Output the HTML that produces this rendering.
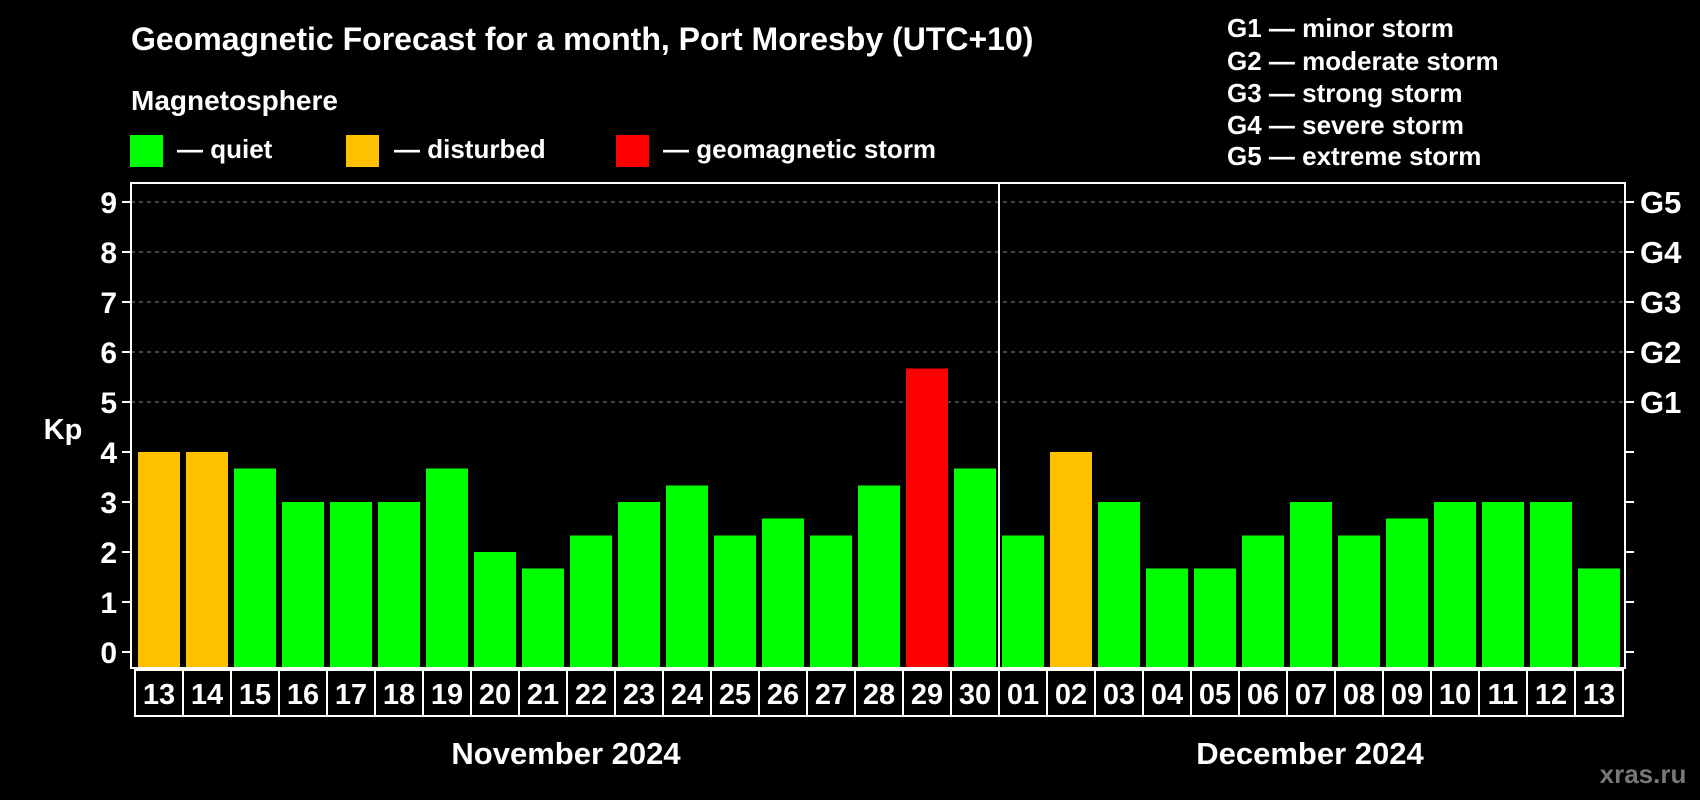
<!DOCTYPE html>
<html><head><meta charset="utf-8"><style>
html,body{margin:0;padding:0;background:#000;}
svg{display:block;font-family:"Liberation Sans",Arial,sans-serif;font-weight:bold;}
</style></head><body>
<svg id="chart" width="1700" height="800" viewBox="0 0 1700 800">
<text x="131" y="50" fill="#fff" font-size="32">Geomagnetic Forecast for a month, Port Moresby (UTC+10)</text>
<text x="131" y="110" fill="#fff" font-size="28">Magnetosphere</text>
<rect x="130" y="135" width="33" height="32" fill="#00ff00"/>
<text x="177" y="158" fill="#fff" font-size="26">— quiet</text>
<rect x="346" y="135" width="33" height="32" fill="#ffc000"/>
<text x="394" y="158" fill="#fff" font-size="26">— disturbed</text>
<rect x="616" y="135" width="33" height="32" fill="#ff0000"/>
<text x="663" y="158" fill="#fff" font-size="26">— geomagnetic storm</text>
<g fill="#fff" font-size="26">
<text x="1227" y="37">G1 — minor storm</text>
<text x="1227" y="70">G2 — moderate storm</text>
<text x="1227" y="102">G3 — strong storm</text>
<text x="1227" y="134">G4 — severe storm</text>
<text x="1227" y="165">G5 — extreme storm</text>
</g>
<text x="63" y="439" fill="#fff" font-size="29" text-anchor="middle">Kp</text>
<g id="grid"></g>
<g id="bars"></g>
<g id="dates"></g>
<rect x="131" y="183" width="1494" height="485" fill="none" stroke="#fff" stroke-width="2"/>
<line x1="999" y1="183" x2="999" y2="668" stroke="#fff" stroke-width="2"/>
<text x="566" y="764" fill="#fff" font-size="31" text-anchor="middle">November 2024</text>
<text x="1310" y="764" fill="#fff" font-size="31" text-anchor="middle">December 2024</text>
<text x="1643" y="783" fill="#777" font-size="26" text-anchor="middle">xras.ru</text>
</svg>
<script>
const days=["13","14","15","16","17","18","19","20","21","22","23","24","25","26","27","28","29","30","01","02","03","04","05","06","07","08","09","10","11","12","13"];
const kp=[4,4,3.67,3,3,3,3.67,2,1.67,2.33,3,3.33,2.33,2.67,2.33,3.33,5.67,3.67,2.33,4,3,1.67,1.67,2.33,3,2.33,2.67,3,3,3,1.67];
const yTicks=[0,1,2,3,4,5,6,7,8,9];
const gLabels=["G1","G2","G3","G4","G5"];
const NS="http://www.w3.org/2000/svg";
const y0=652, unit=50, plotBottom=668;
const y=v=>y0-v*unit;
const x=i=>135+48*i;
function mk(tag,attrs,parent,txt){const e=document.createElementNS(NS,tag);for(const k in attrs)e.setAttribute(k,attrs[k]);if(txt!==undefined)e.textContent=txt;parent.appendChild(e);return e;}
const grid=document.getElementById('grid'),bars=document.getElementById('bars'),dates=document.getElementById('dates');
yTicks.forEach(t=>{
  const yy=y(t);
  if(t>=5){const l=mk('line',{x1:131,x2:1625,y1:yy,y2:yy,stroke:'#888','stroke-width':1,'stroke-dasharray':'4,4'},grid);
    
    }
  const tl=mk('line',{x1:122,x2:131,y1:yy,y2:yy,stroke:'#fff','stroke-width':2},grid);
  
  
  const tr=mk('line',{x1:1625,x2:1634,y1:yy,y2:yy,stroke:'#fff','stroke-width':2},grid);
  
  
  const tx=mk('text',{x:117,y:yy+11,fill:'#fff','font-size':30,'text-anchor':'end'},grid,String(t));
  
  
});
gLabels.forEach((g,i)=>{
  const tx=mk('text',{x:1640,y:y(5+i)+11,fill:'#fff','font-size':31},grid,g);
  
  
});
kp.forEach((v,i)=>{
  const col=v>=5?'#ff0000':(v>=4?'#ffc000':'#00ff00');
  const r=mk('rect',{x:x(i)+3,y:y(v),width:42,height:plotBottom-y(v),fill:col},bars);
  
  
  const b=mk('rect',{x:x(i),y:670,width:48,height:46,fill:'none',stroke:'#fff','stroke-width':2},dates);
  
  
  const t=mk('text',{x:x(i)+24,y:704,fill:'#fff','font-size':29,'text-anchor':'middle'},dates,days[i]);
  
  
});
</script>
</body></html>
